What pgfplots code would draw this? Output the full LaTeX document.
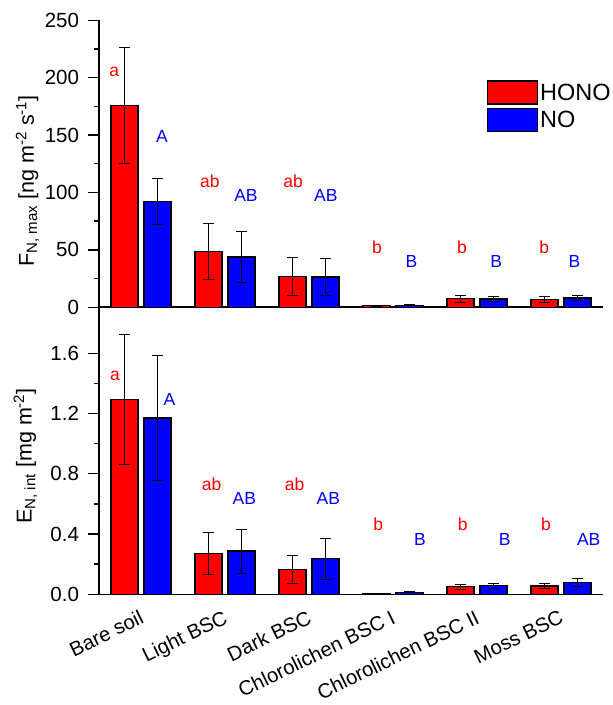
\documentclass[border=0pt]{standalone}
\usepackage{fontspec}
\setmainfont{Liberation Sans}
\usepackage{pgfplots}
\pgfplotsset{compat=1.18}
\usepackage{pgfplotstable}

% columns: x position of HONO bar, x position of NO bar, HONO mean, HONO error, NO mean, NO error
\pgfplotstableread{
xr xb h eh n en
-0.196 0.196 175.5 50.5 92.3 19.8
0.804 1.196 48.5 24.4 43.8 22.5
1.804 2.196 27.0 16.3 26.4 16.0
2.804 3.196 1.5 0.4 1.7 0.4
3.804 4.196 7.5 2.9 7.2 2.4
4.804 5.196 6.7 2.5 8.1 2.4
}\topdata

\pgfplotstableread{
xr xb h eh n en
-0.196 0.196 1.295 0.431 1.171 0.415
0.804 1.196 0.269 0.139 0.287 0.146
1.804 2.196 0.166 0.094 0.236 0.136
2.804 3.196 0.005 0.002 0.013 0.004
3.804 4.196 0.051 0.017 0.057 0.015
4.804 5.196 0.055 0.018 0.077 0.028
}\botdata

\tikzset{lt/.style={font=\fontsize{17.5}{19}\selectfont, inner sep=0pt}}

\pgfplotsset{
 common/.style={
   width=504pt, height=287pt, scale only axis,
   xmin=-0.5, xmax=5.5,
   axis x line=bottom, axis y line=left,
   axis line style={-, line width=1.6pt},
   tick align=outside,
   major tick length=10.5pt, minor tick length=5pt,
   ytick style={line width=1.4pt, black},
   minor y tick num=1,
   xtick style={draw=none},
   clip=false,
   ticklabel style={font=\fontsize{20.5}{22}\selectfont},
   yticklabel style={xshift=-6pt},
   /pgf/number format/assume math mode=true,
   every axis y label/.style={rotate=90, anchor=center, font=\fontsize{21.5}{24}\selectfont},
   error bars/y dir=both, error bars/y explicit,
   error bars/error bar style={line width=0.9pt, black},
   error bars/error mark options={rotate=90, line width=0.9pt, black, mark size=5.3pt},
 },
 boxlegend/.style={legend image code/.code={\draw[##1, line width=1.3pt] (0pt,-11.5pt) rectangle (50pt,11.5pt);}},
 hono/.style={ybar, bar width=0.32, bar shift=0pt, fill=red, draw=black, line width=1.3pt, boxlegend},
 no/.style={ybar, bar width=0.32, bar shift=0pt, fill=blue, draw=black, line width=1.3pt, boxlegend},
}

\begin{document}
\begin{tikzpicture}
\useasboundingbox (-99pt,-110.7pt) rectangle (514pt,594.3pt);

% ---- top panel ----
\begin{axis}[common, at={(0pt,287pt)}, anchor=south west,
  ymin=0, ymax=250, ytick={0,50,100,150,200,250},
  xtick=\empty,
  ylabel={F\textsubscript{N, max} [ng m\textsuperscript{-2} s\textsuperscript{-1}]},
  ylabel style={at={(axis description cs:-0.142,0.44)}},
  legend style={at={(axis description cs:0.769,0.791)}, anchor=north west,
    draw=none, fill=none, inner sep=0pt, row sep=3pt,
    font=\fontsize{23.5}{25}\selectfont, nodes={inner sep=2pt}},
  legend cell align=left,
]
\addplot[hono] table[x=xr, y=h, y error=eh] {\topdata};
\addplot[no] table[x=xb, y=n, y error=en] {\topdata};
\legend{HONO, NO}
\node[lt, text=red] at (axis cs:-0.32,204.7) {a};
\node[lt, text=blue] at (axis cs:0.25,149) {A};
\node[lt, text=red] at (axis cs:0.82,110) {ab};
\node[lt, text=blue] at (axis cs:1.25,97) {AB};
\node[lt, text=red] at (axis cs:1.81,110) {ab};
\node[lt, text=blue] at (axis cs:2.2,97) {AB};
\node[lt, text=red] at (axis cs:2.81,52.5) {b};
\node[lt, text=blue] at (axis cs:3.22,39.5) {B};
\node[lt, text=red] at (axis cs:3.82,52.5) {b};
\node[lt, text=blue] at (axis cs:4.23,39.5) {B};
\node[lt, text=red] at (axis cs:4.8,52.5) {b};
\node[lt, text=blue] at (axis cs:5.16,39.5) {B};
\end{axis}

% ---- bottom panel ----
\begin{axis}[common, at={(0pt,0pt)}, anchor=south west,
  ymin=0, ymax=1.905, ytick={0,0.4,0.8,1.2,1.6},
  yticklabel style={/pgf/number format/.cd, fixed, fixed zerofill, precision=1},
  xtick={0,1,2,3,4,5},
  xticklabels={Bare soil, Light BSC, Dark BSC, Chlorolichen BSC I, Chlorolichen BSC II, Moss BSC},
  xticklabel style={anchor=north east, inner sep=0pt, xshift=-2.5pt, yshift=-4.3pt, rotate=26,
    font=\fontsize{20.3}{22}\selectfont},
  ylabel={E\textsubscript{N, int} [mg m\textsuperscript{-2}]},
  ylabel style={at={(axis description cs:-0.146,0.482)}},
]
\addplot[hono] table[x=xr, y=h, y error=eh] {\botdata};
\addplot[no] table[x=xb, y=n, y error=en] {\botdata};
\node[lt, text=red] at (axis cs:-0.31,1.452) {a};
\node[lt, text=blue] at (axis cs:0.34,1.295) {A};
\node[lt, text=red] at (axis cs:0.84,0.73) {ab};
\node[lt, text=blue] at (axis cs:1.23,0.639) {AB};
\node[lt, text=red] at (axis cs:1.83,0.73) {ab};
\node[lt, text=blue] at (axis cs:2.23,0.639) {AB};
\node[lt, text=red] at (axis cs:2.825,0.466) {b};
\node[lt, text=blue] at (axis cs:3.32,0.365) {B};
\node[lt, text=red] at (axis cs:3.83,0.466) {b};
\node[lt, text=blue] at (axis cs:4.33,0.365) {B};
\node[lt, text=red] at (axis cs:4.82,0.466) {b};
\node[lt, text=blue] at (axis cs:5.33,0.365) {AB};
\end{axis}
\end{tikzpicture}
\end{document}
